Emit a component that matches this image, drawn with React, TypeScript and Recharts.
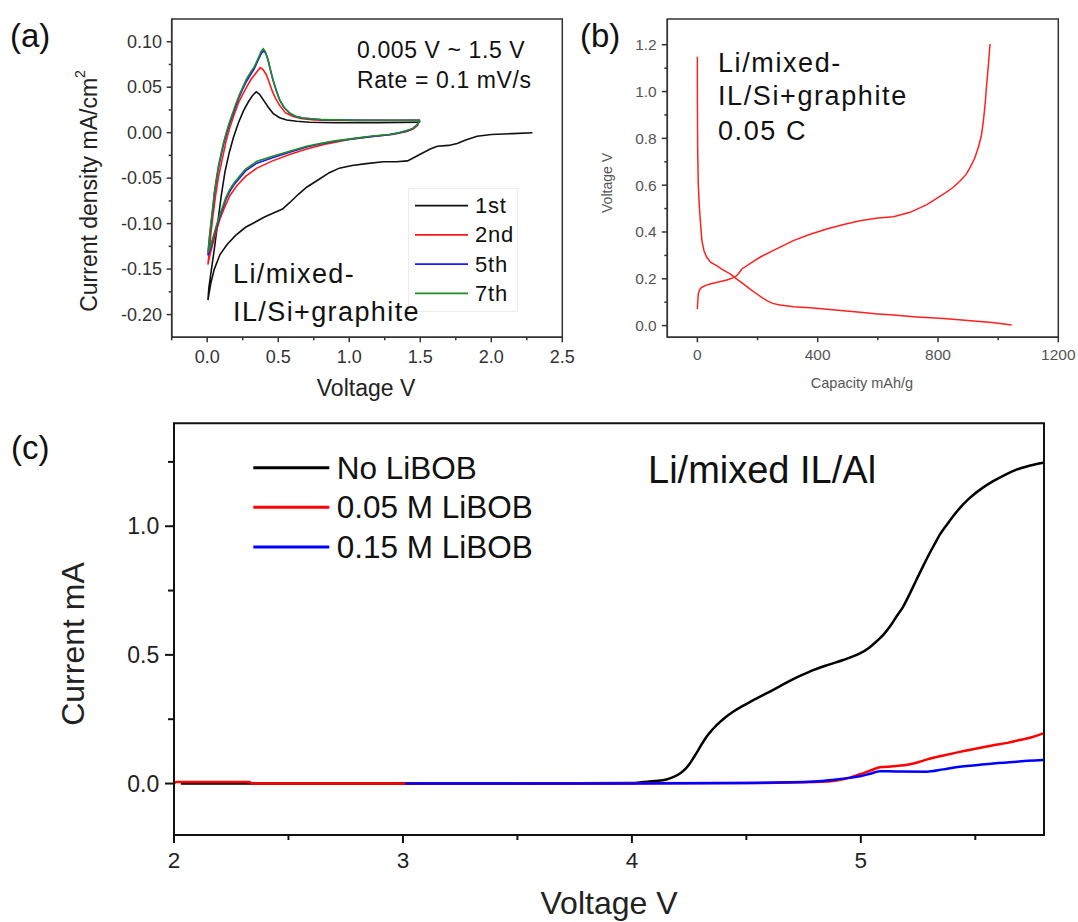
import React from "react";
import { LineChart, Line, XAxis, YAxis, Legend, ReferenceArea } from "recharts";

const FONT = "Arial, 'Liberation Sans', Helvetica, sans-serif";

// ---- (a) cyclic voltammetry, [voltage V, current density mA/cm2] ----
const cv1st: [number, number][] = [
  [2.29, 0.0], [2.15, -0.001], [2.0, -0.002], [1.9, -0.004], [1.82, -0.008], [1.76, -0.012],
  [1.7, -0.014], [1.62, -0.015], [1.57, -0.018], [1.52, -0.022], [1.46, -0.027], [1.41, -0.031],
  [1.33, -0.032], [1.24, -0.032], [1.12, -0.034], [1.02, -0.036], [0.93, -0.039], [0.86, -0.044],
  [0.78, -0.052], [0.7, -0.06], [0.64, -0.068], [0.58, -0.077], [0.53, -0.084], [0.47, -0.088],
  [0.4, -0.093], [0.33, -0.099], [0.27, -0.104], [0.2, -0.113], [0.14, -0.123], [0.09, -0.134],
  [0.05, -0.15], [0.025, -0.166], [0.005, -0.184],
  [0.012, -0.17], [0.03, -0.15], [0.05, -0.128], [0.075, -0.098], [0.1, -0.068], [0.125, -0.043],
  [0.155, -0.022], [0.185, -0.005], [0.22, 0.011], [0.255, 0.024], [0.29, 0.034], [0.32, 0.041],
  [0.345, 0.045], [0.37, 0.042], [0.4, 0.035], [0.43, 0.028], [0.465, 0.021], [0.51, 0.0165],
  [0.56, 0.014], [0.63, 0.0125], [0.72, 0.0115], [0.9, 0.011], [1.2, 0.011], [1.5, 0.0115],
];

const cv2nd: [number, number][] = [
  [1.497, 0.0136], [1.48, 0.008], [1.45, 0.004], [1.4, 0.001], [1.3, -0.002], [1.15, -0.0045],
  [1.0, -0.0075], [0.85, -0.012], [0.7, -0.018], [0.58, -0.024], [0.46, -0.031], [0.35, -0.039],
  [0.27, -0.048], [0.21, -0.058], [0.16, -0.069], [0.12, -0.083], [0.09, -0.095], [0.063, -0.109],
  [0.04, -0.122], [0.02, -0.134], [0.005, -0.145],
  [0.012, -0.135], [0.025, -0.112], [0.04, -0.092], [0.06, -0.068], [0.08, -0.048], [0.11, -0.026],
  [0.135, -0.008], [0.16, 0.006], [0.19, 0.02], [0.22, 0.033], [0.25, 0.042], [0.28, 0.051],
  [0.31, 0.059], [0.345, 0.066], [0.373, 0.0715], [0.395, 0.069], [0.415, 0.064], [0.435, 0.056],
  [0.455, 0.047], [0.48, 0.038], [0.51, 0.03], [0.55, 0.022], [0.6, 0.018], [0.66, 0.0155],
  [0.75, 0.014], [0.9, 0.0135], [1.2, 0.0135], [1.497, 0.0136],
];

const cv5th: [number, number][] = [
  [1.497, 0.0135], [1.48, 0.009], [1.45, 0.005], [1.42, 0.0028], [1.35, -0.0002], [1.28, -0.0022],
  [1.15, -0.0043], [1.05, -0.0063], [0.9, -0.0095], [0.81, -0.012], [0.7, -0.0158], [0.58, -0.0215],
  [0.46, -0.0275], [0.35, -0.0335], [0.27, -0.042], [0.227, -0.05], [0.19, -0.057], [0.157, -0.065],
  [0.13, -0.074], [0.11, -0.083], [0.085, -0.094], [0.063, -0.105], [0.045, -0.115], [0.028, -0.125],
  [0.005, -0.135],
  [0.01, -0.127], [0.016, -0.116], [0.028, -0.099], [0.04, -0.083], [0.05, -0.068], [0.063, -0.054],
  [0.08, -0.038], [0.099, -0.024], [0.115, -0.013], [0.134, -0.002], [0.155, 0.009], [0.18, 0.02],
  [0.2, 0.029], [0.227, 0.04], [0.25, 0.048], [0.275, 0.056], [0.31, 0.065], [0.33, 0.07],
  [0.345, 0.075], [0.365, 0.082], [0.38, 0.087], [0.398, 0.09], [0.413, 0.087], [0.43, 0.079],
  [0.447, 0.068], [0.465, 0.057], [0.487, 0.046], [0.51, 0.036], [0.54, 0.028], [0.58, 0.0215],
  [0.62, 0.018], [0.673, 0.016], [0.75, 0.015], [0.814, 0.0142], [1.05, 0.0135], [1.3, 0.0134],
  [1.497, 0.0135],
];

const cv7th: [number, number][] = [
  [1.497, 0.0136], [1.48, 0.009], [1.45, 0.005], [1.42, 0.003], [1.35, 0.0], [1.28, -0.002],
  [1.15, -0.004], [1.05, -0.006], [0.9, -0.009], [0.81, -0.0115], [0.7, -0.015], [0.58, -0.0205],
  [0.46, -0.026], [0.35, -0.0315], [0.27, -0.04], [0.227, -0.048], [0.19, -0.055], [0.157, -0.063],
  [0.13, -0.072], [0.11, -0.081], [0.085, -0.092], [0.063, -0.103], [0.045, -0.113], [0.028, -0.122],
  [0.005, -0.132],
  [0.01, -0.124], [0.016, -0.114], [0.028, -0.097], [0.04, -0.081], [0.05, -0.066], [0.063, -0.052],
  [0.08, -0.036], [0.099, -0.022], [0.115, -0.011], [0.134, 0.0], [0.155, 0.011], [0.18, 0.022],
  [0.2, 0.031], [0.227, 0.042], [0.25, 0.05], [0.275, 0.0585], [0.31, 0.0676], [0.33, 0.072],
  [0.345, 0.077], [0.365, 0.084], [0.38, 0.0895], [0.395, 0.0923], [0.41, 0.089], [0.427, 0.0805],
  [0.445, 0.069], [0.462, 0.0585], [0.485, 0.047], [0.509, 0.0364], [0.54, 0.028], [0.58, 0.0217],
  [0.62, 0.018], [0.673, 0.0162], [0.75, 0.015], [0.814, 0.0143], [1.05, 0.0136], [1.3, 0.0136],
  [1.497, 0.0136],
];

const cvNames = ["1st", "2nd", "5th", "7th"];
const cvXMajor = [0, 0.5, 1, 1.5, 2, 2.5];
const cvXMinor = [-0.25, 0.25, 0.75, 1.25, 1.75, 2.25];
const cvYMajor = [-0.2, -0.15, -0.1, -0.05, 0, 0.05, 0.1];
const cvYMinor = [-0.175, -0.125, -0.075, -0.025, 0.025, 0.075];

// ---- (b) charge / discharge, [capacity mAh/g, voltage V] ----
const discharge: [number, number][] = [
  [0, 1.149], [0, 1.0], [0.5, 0.85], [1, 0.75], [3, 0.605], [6, 0.52], [9, 0.462], [15, 0.363],
  [22, 0.32], [31, 0.292], [45, 0.27], [64, 0.256], [85, 0.238], [109, 0.221], [130, 0.2],
  [153, 0.178], [175, 0.156], [198, 0.135], [215, 0.12], [231, 0.107], [250, 0.095], [275, 0.088],
  [320, 0.081], [375, 0.076], [450, 0.068], [541, 0.057], [600, 0.05], [652, 0.045], [730, 0.037],
  [818, 0.03], [880, 0.024], [929, 0.019], [980, 0.013], [1020, 0.007], [1045, 0.003],
];

const charge: [number, number][] = [
  [0, 0.071], [1, 0.1], [3, 0.135], [8, 0.155], [15, 0.164], [28, 0.172], [42, 0.178], [70, 0.186],
  [98, 0.195], [120, 0.205], [131, 0.213], [140, 0.228], [148, 0.242], [175, 0.265], [208, 0.292],
  [260, 0.326], [319, 0.363], [375, 0.39], [430, 0.413], [490, 0.433], [541, 0.448], [600, 0.46],
  [652, 0.465], [707, 0.484], [763, 0.517], [818, 0.562], [850, 0.59], [874, 0.619], [893, 0.645],
  [907, 0.676], [922, 0.715], [934, 0.761], [944, 0.81], [951, 0.875], [957, 0.95], [962, 1.032],
  [968, 1.12], [973, 1.203],
];

const gcXMajor = [0, 400, 800, 1200];
const gcXMinor = [200, 600, 1000];
const gcYMajor = [0, 0.2, 0.4, 0.6, 0.8, 1.0, 1.2];
const gcYMinor = [0.1, 0.3, 0.5, 0.7, 0.9, 1.1];

// ---- (c) linear sweep on Al, [voltage V, current mA] ----
const noLiBOB: [number, number][] = [
  [2.03, 0], [3.0, 0], [3.5, 0], [4.0, 0.002], [4.05, 0.006], [4.1, 0.01], [4.151, 0.016],
  [4.18, 0.025], [4.21, 0.039], [4.235, 0.058], [4.253, 0.078], [4.272, 0.104], [4.29, 0.13],
  [4.308, 0.157], [4.326, 0.182], [4.348, 0.206], [4.37, 0.227], [4.405, 0.255], [4.442, 0.279],
  [4.485, 0.302], [4.53, 0.324], [4.575, 0.345], [4.617, 0.364], [4.675, 0.392], [4.734, 0.418],
  [4.792, 0.441], [4.86, 0.462], [4.923, 0.48], [4.96, 0.492], [4.996, 0.506], [5.035, 0.527],
  [5.068, 0.552], [5.1, 0.58], [5.127, 0.61], [5.155, 0.648], [5.185, 0.688], [5.215, 0.74],
  [5.243, 0.792], [5.272, 0.845], [5.301, 0.896], [5.325, 0.935], [5.345, 0.967], [5.375, 1.005],
  [5.403, 1.039], [5.44, 1.078], [5.476, 1.11], [5.53, 1.148], [5.578, 1.175], [5.63, 1.2],
  [5.68, 1.22], [5.74, 1.236], [5.796, 1.247],
];

const libob005: [number, number][] = [
  [2.0, 0.0], [2.01, 0.006], [2.33, 0.006], [2.34, 0.0], [3.0, 0.0], [4.5, 0.002], [4.8, 0.006],
  [4.9, 0.013], [4.94, 0.02], [4.996, 0.036], [5.04, 0.05], [5.083, 0.063], [5.141, 0.067],
  [5.214, 0.075], [5.25, 0.083], [5.287, 0.093], [5.36, 0.109], [5.432, 0.123], [5.5, 0.135],
  [5.578, 0.149], [5.64, 0.158], [5.694, 0.169], [5.75, 0.181], [5.796, 0.195],
];

const libob015: [number, number][] = [
  [3.01, 0], [4.0, 0], [4.5, 0.002], [4.8, 0.008], [4.893, 0.016], [4.95, 0.022], [4.996, 0.028],
  [5.04, 0.038], [5.083, 0.048], [5.15, 0.047], [5.287, 0.046], [5.36, 0.055], [5.432, 0.065],
  [5.5, 0.071], [5.578, 0.078], [5.68, 0.085], [5.796, 0.091],
];

const lsvNames = ["No LiBOB", "0.05 M LiBOB", "0.15 M LiBOB"];
const lsvXMajor = [2, 3, 4, 5];
const lsvXMinor = [2.5, 3.5, 4.5, 5.5];
const lsvYMajor = [0, 0.5, 1.0];
const lsvYMinor = [0.25, 0.75, 1.25];

const pts = (arr: [number, number][]) => arr.map(([x, y]) => ({ x, y }));

type TickStyle = {
  majors: number[];
  majorLen: number;
  minorLen: number;
  gap: number;
  fontSize: number;
  color: string;
  stroke: string;
  width: number;
  fmt: (v: number) => string;
};

const isMajor = (majors: number[], v: number) => majors.some((m) => Math.abs(m - v) < 1e-9);

// bottom axis tick: tick line going down plus label for major values
function xTick(s: TickStyle) {
  return (props: any) => {
    const { x, y, payload } = props;
    const major = isMajor(s.majors, payload.value);
    return (
      <g>
        <line x1={x} x2={x} y1={y} y2={y + (major ? s.majorLen : s.minorLen)} stroke={s.stroke} strokeWidth={s.width} />
        {major && (
          <text x={x} y={y + s.gap} textAnchor="middle" dominantBaseline="central" fontSize={s.fontSize} fill={s.color} fontFamily={FONT}>
            {s.fmt(payload.value)}
          </text>
        )}
      </g>
    );
  };
}

// left axis tick
function yTick(s: TickStyle) {
  return (props: any) => {
    const { x, y, payload } = props;
    const major = isMajor(s.majors, payload.value);
    return (
      <g>
        <line x1={x} x2={x - (major ? s.majorLen : s.minorLen)} y1={y} y2={y} stroke={s.stroke} strokeWidth={s.width} />
        {major && (
          <text x={x - s.gap} y={y} textAnchor="end" dominantBaseline="central" fontSize={s.fontSize} fill={s.color} fontFamily={FONT}>
            {s.fmt(payload.value)}
          </text>
        )}
      </g>
    );
  };
}

const sorted = (a: number[], b: number[]) => [...a, ...b].sort((p, q) => p - q);

// keep legend rows in series order
const ordered = (payload: any[], names: string[]) =>
  [...payload].sort((p, q) => names.indexOf(p.value) - names.indexOf(q.value));

function CvLegend(props: any) {
  const items = ordered(props.payload || [], cvNames);
  return (
    <svg width={110} height={124} style={{ overflow: "visible", display: "block" }}>
      <rect x={0.5} y={0.5} width={109} height={123} fill="none" stroke="#ececec" />
      {items.map((p: any, i: number) => {
        const cy = 17.7 + i * 29.2;
        return (
          <g key={p.value}>
            <line x1={7} x2={60} y1={cy} y2={cy} stroke={p.color} strokeWidth={1.8} />
            <text x={67} y={cy} dominantBaseline="central" fontSize={22} letterSpacing={0.8} fill="#111" fontFamily={FONT}>
              {p.value}
            </text>
          </g>
        );
      })}
    </svg>
  );
}

function LsvLegend(props: any) {
  const items = ordered(props.payload || [], lsvNames);
  return (
    <svg width={280} height={120} style={{ overflow: "visible", display: "block" }}>
      {items.map((p: any, i: number) => {
        const cy = 20.7 + i * 39.65;
        return (
          <g key={p.value}>
            <line x1={3.3} x2={79.3} y1={cy} y2={cy} stroke={p.color} strokeWidth={3} />
            <text x={86.7} y={cy} dominantBaseline="central" fontSize={31.5} fill="#111" fontFamily={FONT}>
              {p.value}
            </text>
          </g>
        );
      })}
    </svg>
  );
}

export default function App() {
  const aTick: TickStyle = { majors: cvXMajor, majorLen: 5, minorLen: 3, gap: 19.4, fontSize: 18, color: "#333", stroke: "#333", width: 1.5, fmt: (v) => v.toFixed(1) };
  const aYTick: TickStyle = { majors: cvYMajor, majorLen: 5, minorLen: 3, gap: 9.7, fontSize: 18, color: "#333", stroke: "#333", width: 1.5, fmt: (v) => v.toFixed(2) };
  const bTick: TickStyle = { majors: gcXMajor, majorLen: 5, minorLen: 3, gap: 16.7, fontSize: 15.5, color: "#555", stroke: "#333", width: 1.5, fmt: (v) => String(v) };
  const bYTick: TickStyle = { majors: gcYMajor, majorLen: 5.5, minorLen: 3, gap: 10.6, fontSize: 15.5, color: "#555", stroke: "#333", width: 1.5, fmt: (v) => v.toFixed(1) };
  const cTick: TickStyle = { majors: lsvXMajor, majorLen: 8, minorLen: 5, gap: 25, fontSize: 22.5, color: "#222", stroke: "#111", width: 2, fmt: (v) => String(v) };
  const cYTick: TickStyle = { majors: lsvYMajor, majorLen: 9, minorLen: 6, gap: 14.7, fontSize: 23, color: "#222", stroke: "#111", width: 2, fmt: (v) => v.toFixed(1) };

  return (
    <div style={{ position: "absolute", left: 0, top: 0, width: 1078, height: 922, background: "#fff", fontFamily: FONT }}>
      {/* (a) CV cycles */}
      <div style={{ position: "absolute", left: 0, top: 0 }}>
        <LineChart width={600} height={400} margin={{ top: 19, right: 37.7, left: 111.7, bottom: 32.7 }}>
          <XAxis
            type="number"
            dataKey="x"
            domain={[-0.25, 2.5]}
            allowDataOverflow
            ticks={sorted(cvXMajor, cvXMinor)}
            interval={0}
            tickLine={false}
            tickSize={0}
            tickMargin={0}
            height={30}
            axisLine={{ stroke: "#333", strokeWidth: 1.5 }}
            tick={xTick(aTick)}
          />
          <YAxis
            type="number"
            dataKey="y"
            domain={[-0.225, 0.125]}
            allowDataOverflow
            ticks={sorted(cvYMajor, cvYMinor)}
            interval={0}
            tickLine={false}
            tickSize={0}
            tickMargin={0}
            width={60}
            axisLine={{ stroke: "#333", strokeWidth: 1.5 }}
            tick={yTick(aYTick)}
          />
          <ReferenceArea x1={-0.25} x2={2.5} y1={-0.225} y2={0.125} fill="none" fillOpacity={0} stroke="#333" strokeWidth={1.5} />
          <Line data={pts(cv1st)} dataKey="y" name="1st" type="linear" stroke="#111111" strokeWidth={1.6} dot={false} activeDot={false} isAnimationActive={false} />
          <Line data={pts(cv2nd)} dataKey="y" name="2nd" type="linear" stroke="#ff1a1a" strokeWidth={1.6} dot={false} activeDot={false} isAnimationActive={false} />
          <Line data={pts(cv5th)} dataKey="y" name="5th" type="linear" stroke="#1a1aff" strokeWidth={1.6} dot={false} activeDot={false} isAnimationActive={false} />
          <Line data={pts(cv7th)} dataKey="y" name="7th" type="linear" stroke="#228b22" strokeWidth={1.6} dot={false} activeDot={false} isAnimationActive={false} />
          <Legend
            layout="vertical"
            align="center"
            verticalAlign="middle"
            content={<CvLegend />}
            wrapperStyle={{ left: 408, top: 188, width: 110, height: 124 }}
          />
        </LineChart>
      </div>

      {/* (b) galvanostatic profile */}
      <div style={{ position: "absolute", left: 565, top: 0 }}>
        <LineChart width={513} height={400} margin={{ top: 19, right: 19.7, left: 52.3, bottom: 32.7 }}>
          <XAxis
            type="number"
            dataKey="x"
            domain={[-100, 1200]}
            allowDataOverflow
            ticks={sorted(gcXMajor, gcXMinor)}
            interval={0}
            tickLine={false}
            tickSize={0}
            tickMargin={0}
            height={30}
            axisLine={{ stroke: "#333", strokeWidth: 1.5 }}
            tick={xTick(bTick)}
          />
          <YAxis
            type="number"
            dataKey="y"
            domain={[-0.05, 1.31]}
            allowDataOverflow
            ticks={sorted(gcYMajor, gcYMinor)}
            interval={0}
            tickLine={false}
            tickSize={0}
            tickMargin={0}
            width={50}
            axisLine={{ stroke: "#333", strokeWidth: 1.5 }}
            tick={yTick(bYTick)}
          />
          <ReferenceArea x1={-100} x2={1200} y1={-0.05} y2={1.31} fill="none" fillOpacity={0} stroke="#333" strokeWidth={1.5} />
          <Line data={pts(discharge)} dataKey="y" name="discharge" type="linear" stroke="#ff2020" strokeWidth={1.5} dot={false} activeDot={false} isAnimationActive={false} />
          <Line data={pts(charge)} dataKey="y" name="charge" type="linear" stroke="#ff2020" strokeWidth={1.5} dot={false} activeDot={false} isAnimationActive={false} />
        </LineChart>
      </div>

      {/* (c) anodic stability on Al */}
      <div style={{ position: "absolute", left: 0, top: 400 }}>
        <LineChart width={1078} height={522} margin={{ top: 23.3, right: 34, left: 94, bottom: 47 }}>
          <XAxis
            type="number"
            dataKey="x"
            domain={[2, 5.8]}
            allowDataOverflow
            ticks={sorted(lsvXMajor, lsvXMinor)}
            interval={0}
            tickLine={false}
            tickSize={0}
            tickMargin={0}
            height={40}
            axisLine={{ stroke: "#111", strokeWidth: 2 }}
            tick={xTick(cTick)}
          />
          <YAxis
            type="number"
            dataKey="y"
            domain={[-0.2, 1.4]}
            allowDataOverflow
            ticks={sorted(lsvYMajor, lsvYMinor)}
            interval={0}
            tickLine={false}
            tickSize={0}
            tickMargin={0}
            width={80}
            axisLine={{ stroke: "#111", strokeWidth: 2 }}
            tick={yTick(cYTick)}
          />
          <ReferenceArea x1={2} x2={5.8} y1={-0.2} y2={1.4} fill="none" fillOpacity={0} stroke="#111" strokeWidth={2} />
          <Line data={pts(noLiBOB)} dataKey="y" name="No LiBOB" type="monotone" stroke="#000000" strokeWidth={2.5} dot={false} activeDot={false} isAnimationActive={false} />
          <Line data={pts(libob005)} dataKey="y" name="0.05 M LiBOB" type="monotone" stroke="#ff0000" strokeWidth={2.5} dot={false} activeDot={false} isAnimationActive={false} />
          <Line data={pts(libob015)} dataKey="y" name="0.15 M LiBOB" type="monotone" stroke="#0000ff" strokeWidth={2.5} dot={false} activeDot={false} isAnimationActive={false} />
          <Legend
            layout="vertical"
            align="center"
            verticalAlign="middle"
            content={<LsvLegend />}
            wrapperStyle={{ left: 250, top: 47, width: 280, height: 120 }}
          />
        </LineChart>
      </div>

      {/* panel letters, axis titles and annotations */}
      <svg width={1078} height={922} style={{ position: "absolute", left: 0, top: 0, pointerEvents: "none" }} fontFamily={FONT}>
        <g fill="#111" dominantBaseline="central">
          <text x={10} y={35} fontSize={33}>(a)</text>
          <text x={580} y={35} fontSize={33}>(b)</text>
          <text x={11} y={447} fontSize={33}>(c)</text>

          <text x={357} y={50} fontSize={23} letterSpacing={0.6}>0.005 V ~ 1.5 V</text>
          <text x={357} y={80} fontSize={23} letterSpacing={0.6}>Rate = 0.1 mV/s</text>
          <text x={233} y={273.5} fontSize={27} letterSpacing={1.4}>Li/mixed-</text>
          <text x={233} y={311.5} fontSize={27} letterSpacing={1.4}>IL/Si+graphite</text>

          <text x={718} y={63.3} fontSize={27} letterSpacing={1.6}>Li/mixed-</text>
          <text x={718} y={95.5} fontSize={27} letterSpacing={1.6}>IL/Si+graphite</text>
          <text x={718} y={130.7} fontSize={27} letterSpacing={1.6}>0.05 C</text>

          <text x={648} y={470} fontSize={38}>Li/mixed IL/Al</text>
        </g>

        <g fill="#222" dominantBaseline="central" textAnchor="middle">
          <text x={366} y={388} fontSize={23}>Voltage V</text>
          <text transform="translate(89,191) rotate(-90)" fontSize={23}>
            Current density mA/cm<tspan fontSize={14} dy={-9}>2</tspan>
          </text>

          <text x={862} y={383} fontSize={14.5} fill="#555">Capacity mAh/g</text>
          <text transform="translate(607,183) rotate(-90)" fontSize={14} fill="#555">Voltage V</text>

          <text x={609} y={903} fontSize={32}>Voltage V</text>
          <text transform="translate(73,644) rotate(-90)" fontSize={32}>Current mA</text>
        </g>
      </svg>
    </div>
  );
}
